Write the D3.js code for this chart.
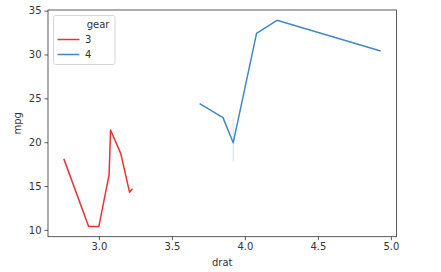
<!DOCTYPE html>
<html>
<head>
  <meta charset="UTF-8">
  <title>mpg by drat</title>
  <style>
    body { margin: 0; background: #fff; }
    text { font-family: "DejaVu Sans", sans-serif; fill: #333; }
    .tick text { font-size: 10px; }
    .label { font-size: 10px; }
    .legend text { font-size: 10px; }
  </style>
</head>
<body>
<svg></svg>
<script src="https://d3js.org/d3.v7.min.js"></script>
<script>
let width = 441, height = 272;
let margin = {left: 48, right: 44.5, top: 10, bottom: 35.3};

// gear 3 series (drat, mean mpg, ci low, ci high; null = single observation)
var drat3 = [2.76, 2.93, 3.00, 3.07, 3.08, 3.15, 3.21, 3.23];
var mpg3  = [18.1, 10.4, 10.4, 16.3, 21.4, 18.7, 14.3, 14.7];
var lo3   = [null, null, null, 15.2, null, null, null, null];
var hi3   = [null, null, null, 17.3, null, null, null, null];

// gear 4 series
var drat4 = [3.69, 3.85, 3.92, 4.08, 4.22, 4.93];
var mpg4  = [24.4, 22.8, 19.93, 32.4, 33.9, 30.4];
var lo4   = [null, null, 17.8, null, null, null];
var hi4   = [null, null, 22.8, null, null, null];

var gears = ["3", "4"];
var colors = ["#ea3236", "#4287c6"];
var xTicks = [3.0, 3.5, 4.0, 4.5, 5.0];
var yTicks = [10, 15, 20, 25, 30, 35];

let svg = d3.select("svg").attr("width", width).attr("height", height);

let x = d3.scaleLinear().domain([2.6515, 5.0385])
    .range([margin.left, width - margin.right]);
let y = d3.scaleLinear().domain([9.225, 35.075])
    .range([height - margin.bottom, margin.top]);

function rows(xs, m, lo, hi) {
  return xs.map((d, i) => ({x: d, y: m[i], lo: lo[i], hi: hi[i]}));
}
var series = [rows(drat3, mpg3, lo3, hi3), rows(drat4, mpg4, lo4, hi4)];

let g = svg.append("g");

// confidence bands: only isolated points have a spread, so they show as thin slivers
series.forEach((s, i) => {
  g.selectAll(null)
    .data(s.filter(d => d.lo != null))
    .enter()
    .append("line")
    .attr("x1", d => x(d.x)).attr("x2", d => x(d.x))
    .attr("y1", d => y(d.lo)).attr("y2", d => y(d.hi))
    .attr("stroke", colors[i])
    .attr("stroke-opacity", 0.25)
    .attr("stroke-width", 1);
});

// lines
series.forEach((s, i) => {
  g.append("path")
    .datum(s)
    .attr("d", d3.line().x(d => x(d.x)).y(d => y(d.y)))
    .attr("fill", "none")
    .attr("stroke", colors[i])
    .attr("stroke-width", 1.5)
    .attr("stroke-linejoin", "round");
});

// axes
svg.append("g")
    .attr("transform", "translate(0," + (height - margin.bottom) + ")")
    .call(d3.axisBottom(x).tickValues(xTicks).tickFormat(d3.format(".1f")).tickSizeOuter(0).tickSize(3.5).tickPadding(3));
svg.append("g")
    .attr("transform", "translate(" + margin.left + ",0)")
    .call(d3.axisLeft(y).tickValues(yTicks).tickSizeOuter(0).tickSize(3.5).tickPadding(3));
svg.selectAll(".domain").remove();
svg.selectAll(".tick line").attr("stroke", "#333").attr("stroke-width", 0.8);

// frame
svg.append("rect")
    .attr("x", margin.left).attr("y", margin.top)
    .attr("width", width - margin.left - margin.right)
    .attr("height", height - margin.top - margin.bottom)
    .attr("fill", "none").attr("stroke", "#333").attr("stroke-width", 0.8);

svg.append("text").attr("class", "label")
    .attr("x", (margin.left + width - margin.right) / 2).attr("y", 266)
    .attr("text-anchor", "middle").text("drat");
svg.append("text").attr("class", "label")
    .attr("transform", "translate(21," + ((margin.top + height - margin.bottom) / 2) + ") rotate(-90)")
    .attr("text-anchor", "middle").text("mpg");

// legend
let lg = svg.append("g").attr("class", "legend");
lg.append("rect")
    .attr("x", 53.5).attr("y", 15.5).attr("width", 61.5).attr("height", 49)
    .attr("rx", 2).attr("fill", "#fff").attr("fill-opacity", 0.8)
    .attr("stroke", "#ccc").attr("stroke-width", 0.8);
lg.append("text").attr("x", 98).attr("y", 28).attr("text-anchor", "middle").text("gear");
gears.forEach((gname, i) => {
  let yy = 39.5 + i * 15;
  lg.append("line").attr("x1", 57.5).attr("x2", 79.5).attr("y1", yy).attr("y2", yy)
    .attr("stroke", colors[i]).attr("stroke-width", 1.5);
  lg.append("text").attr("x", 85).attr("y", yy + 3.5).text(gname);
});
</script>
</body>
</html>
